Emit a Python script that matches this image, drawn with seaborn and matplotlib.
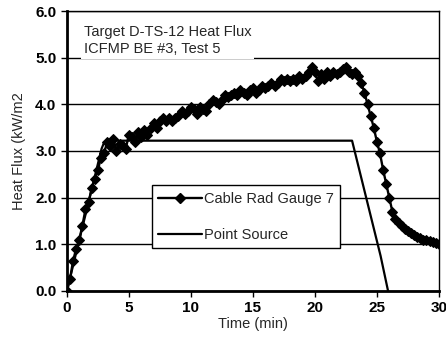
import numpy as np
import pandas as pd
import matplotlib.pyplot as plt
import seaborn as sns
from matplotlib.lines import Line2D

# Cable Rad Gauge 7, sampled every 0.25 min
gauge_time = np.arange(0, 30.01, 0.25)
gauge_flux = [0.0, 0.25, 0.65, 0.9, 1.1, 1.4, 1.75, 1.9, 2.2, 2.4, 2.6, 2.85,
              2.95, 3.2, 3.1, 3.25, 3.0, 3.15, 3.1, 3.05, 3.35, 3.3, 3.2, 3.4,
              3.3, 3.45, 3.35, 3.5, 3.6, 3.5, 3.65, 3.7, 3.65, 3.7, 3.65, 3.7,
              3.75, 3.85, 3.8, 3.85, 3.95, 3.9, 3.8, 3.95, 3.9, 3.85, 4.0, 4.1,
              4.05, 4.0, 4.1, 4.2, 4.15, 4.2, 4.25, 4.2, 4.3, 4.25, 4.2, 4.3,
              4.35, 4.25, 4.3, 4.4, 4.35, 4.4, 4.45, 4.4, 4.45, 4.55, 4.5, 4.55,
              4.5, 4.55, 4.5, 4.6, 4.55, 4.6, 4.7, 4.8, 4.7, 4.5, 4.65, 4.55,
              4.7, 4.6, 4.7, 4.65, 4.7, 4.75, 4.8, 4.7, 4.65, 4.7, 4.6, 4.45,
              4.25, 4.0, 3.75, 3.5, 3.2, 2.95, 2.6, 2.3, 2.0, 1.7, 1.55, 1.45,
              1.38, 1.33, 1.28, 1.24, 1.2, 1.16, 1.13, 1.1, 1.08, 1.06, 1.04, 1.02,
              1.0]

# Point source model
ps_time = [0, 2.8, 3.0, 3.3, 23.0, 25.3, 25.9]
ps_flux = [0, 3.05, 3.18, 3.22, 3.22, 0.75, 0.0]

df_gauge = pd.DataFrame({"Time": gauge_time, "Flux": gauge_flux})
df_ps = pd.DataFrame({"Time": ps_time, "Flux": ps_flux})

sns.set_style("white")
plt.rcParams['font.family'] = ['Liberation Sans', 'DejaVu Sans']

fig = plt.figure(figsize=(4.46, 3.45), dpi=100)
ax = fig.add_axes([0.150, 0.157, 0.834, 0.811])

ax.yaxis.grid(True, color='black', lw=1.0)
sns.lineplot(data=df_ps, x="Time", y="Flux", ax=ax, color='black', lw=1.6,
             sort=False, estimator=None)
sns.lineplot(data=df_gauge, x="Time", y="Flux", ax=ax, color='black', lw=1.7,
             marker='D', markersize=4.6, markeredgecolor='black',
             sort=False, estimator=None)

ax.set_xlim(0, 30)
ax.set_ylim(0, 6)
ax.set_xticks([0, 5, 10, 15, 20, 25, 30])
ax.set_yticks([0, 1, 2, 3, 4, 5, 6])
ax.set_yticklabels(["%.1f" % v for v in [0, 1, 2, 3, 4, 5, 6]])
ax.tick_params(direction='out', length=4, width=1, colors='black',
               bottom=True, left=True, labelsize=11)
for lab in ax.get_xticklabels() + ax.get_yticklabels():
    lab.set_fontweight('bold')

for s in ax.spines.values():
    s.set_color('black')
    s.set_linewidth(1)
ax.spines['left'].set_linewidth(2)
ax.spines['bottom'].set_linewidth(2)

ax.set_xlabel("Time (min)", fontsize=10.5, labelpad=1)
ax.set_ylabel("Heat Flux (kW/m2", fontsize=10.5, labelpad=7)

ax.text(0.046, 0.95, "Target D-TS-12 Heat Flux\nICFMP BE #3, Test 5",
        transform=ax.transAxes, va='top', ha='left', fontsize=10.5,
        linespacing=1.25,
        bbox=dict(facecolor='white', edgecolor='none', pad=2))

handles = [Line2D([], [], color='black', lw=1.7, marker='D', markersize=4.6),
           Line2D([], [], color='black', lw=1.6)]
leg = ax.legend(handles, ["Cable Rad Gauge 7", "Point Source"],
                loc='center', bbox_to_anchor=(0.4815, 0.264),
                fontsize=10.5, handlelength=3.0, labelspacing=1.5,
                frameon=True, fancybox=False, framealpha=1,
                edgecolor='black', borderpad=0.45, handletextpad=0.15,
                borderaxespad=0)
leg.get_frame().set_linewidth(1)

fig.savefig("out.png", dpi=100)
